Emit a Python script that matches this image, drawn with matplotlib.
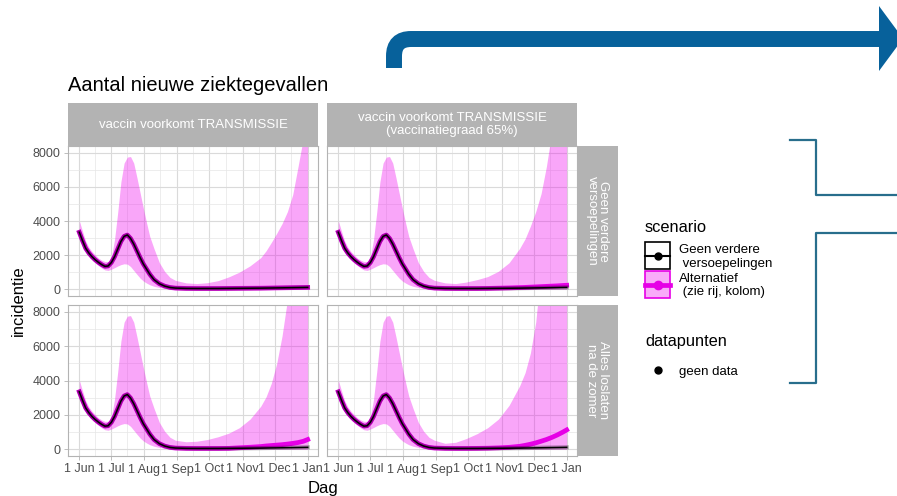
import numpy as np
import matplotlib
matplotlib.use("Agg")
import matplotlib.pyplot as plt
from matplotlib.path import Path
from matplotlib.patches import PathPatch, Polygon, Rectangle

plt.rcParams['font.family'] = ['Liberation Sans', 'DejaVu Sans']

# ---- data ----
start = np.datetime64('2021-06-01')
days = [0, 3, 6, 9, 12, 15, 18, 21, 24, 27, 30, 33, 36, 39, 42, 45, 48, 51, 54, 57, 60,
        63, 66, 70, 75, 80, 85, 90, 100, 110, 120, 130, 140, 150, 160, 170, 175, 180,
        185, 190, 195, 200, 205, 210, 214]

# scenario "Geen verdere versoepelingen" (black line)
baseline = [3340, 2850, 2400, 2120, 1900, 1720, 1570, 1440, 1340, 1360, 1560, 1900, 2350,
            2800, 3100, 3180, 2980, 2650, 2250, 1850, 1480, 1180, 880, 560, 320, 180, 100,
            65, 45, 40, 40, 40, 45, 50, 55, 60, 65, 70, 75, 80, 85, 90, 95, 100, 105]

# lower edge of the alternative ribbon (same in every panel)
band_low = [3200, 2700, 2280, 1950, 1720, 1530, 1380, 1240, 1130, 1100, 1170, 1260, 1360,
            1440, 1490, 1470, 1330, 1100, 870, 650, 480, 360, 260, 170, 100, 50, 20, 10,
            0, 0, 0, 0, 0, 0, 0, 0, 0, 0, 0, 0, 0, 0, 0, 0, 0]

# upper edge of the ribbon up to 1 Sep (day 90), then per panel
band_high_head = [4020, 3400, 2820, 2450, 2200, 2000, 1820, 1700, 1620, 1620, 1850, 2900,
                  4500, 6300, 7400, 7750, 7780, 7400, 6550, 5650, 4750, 3900, 3100, 2380,
                  1560, 1040, 690, 520]
band_high_tl = [370, 330, 380, 500, 720, 1000, 1370, 1850, 2250, 2750, 3280, 3850, 4550,
                5550, 7200, 8900, 10500]
band_high_tr = [370, 330, 420, 560, 740, 1050, 1550, 2400, 2950, 3700, 4550, 5600, 7200,
                9200, 11500, 13500, 15000]
band_high_bl = [430, 460, 560, 720, 930, 1250, 1750, 2500, 3050, 3850, 5000, 6600, 8700,
                11000, 13000, 15000, 16500]
band_high_br = [340, 400, 620, 900, 1250, 1750, 2550, 3700, 4450, 5600, 7400, 10500, 13000,
                15500, 17500, 19000, 20000]

# alternative scenario median (magenta), from day 100 on; before that equal to baseline
alt_tl = [45, 40, 40, 40, 45, 50, 55, 60, 65, 70, 75, 80, 85, 90, 95, 100, 105]
alt_tr = [45, 40, 40, 40, 45, 60, 75, 95, 105, 120, 135, 150, 165, 180, 195, 215, 230]
alt_bl = [45, 40, 40, 40, 45, 80, 110, 150, 185, 210, 235, 260, 295, 335, 385, 460, 560]
alt_br = [45, 40, 40, 45, 55, 75, 105, 165, 220, 285, 365, 460, 560, 680, 820, 980, 1120]

col_labels = ['vaccin voorkomt TRANSMISSIE',
              'vaccin voorkomt TRANSMISSIE\n(vaccinatiegraad 65%)']
row_labels = ['Geen verdere\nversoepelingen', 'Alles loslaten\nna de zomer']
month_labels = ['1 Jun', '1 Jul', '1 Aug', '1 Sep', '1 Oct', '1 Nov', '1 Dec', '1 Jan']
y_ticks = [0, 2000, 4000, 6000, 8000]

# ---- figure ----
W, H = 897, 496
fig = plt.figure(figsize=(W / 100, H / 100), dpi=100)


def frac(l, t, r, b):
    return [l / W, 1 - b / H, (r - l) / W, (b - t) / H]


dates = start + np.array(days).astype('timedelta64[D]')
month_ticks = np.arange(np.datetime64('2021-06'), np.datetime64('2022-02')).astype('datetime64[D]')
minor_x = month_ticks[:-1] + (month_ticks[1:] - month_ticks[:-1]) / 2

pink = '#EE00EE'
grey70 = '#B3B3B3'

cols = [(68, 318), (327, 577)]
rows = [(146, 296), (305, 456)]
panels = [(0, 0, band_high_tl, alt_tl), (0, 1, band_high_tr, alt_tr),
          (1, 0, band_high_bl, alt_bl), (1, 1, band_high_br, alt_br)]

for r, c, hi_tail, alt_tail in panels:
    l, rr = cols[c]
    t, b = rows[r]
    ax = fig.add_axes(frac(l, t, rr, b))
    upper = band_high_head + hi_tail
    alt = baseline[:28] + alt_tail
    ax.fill_between(dates, band_low, upper, color=pink, alpha=0.35, lw=0, zorder=2)
    ax.plot(dates, alt, color='#E600E6', lw=3.4, zorder=3)
    ax.plot(dates, baseline, color='black', alpha=0.3, lw=3.0, zorder=4)
    ax.plot(dates, baseline, color='black', lw=1.1, zorder=5)

    ax.set_xlim(start - np.timedelta64(254, 'h'), start + np.timedelta64(214 * 24 + 232, 'h'))
    ax.set_ylim(-400, 8400)
    ax.set_xticks(month_ticks)
    ax.set_xticks(minor_x, minor=True)
    ax.set_yticks(y_ticks)
    ax.set_yticks([1000, 3000, 5000, 7000], minor=True)
    ax.set_xticklabels(month_labels)
    ax.set_yticklabels([str(v) for v in y_ticks])
    ax.grid(which='major', color='#DADADA', lw=0.8)
    ax.grid(which='minor', color='#E6E6E6', lw=0.5)
    ax.set_axisbelow(True)
    for s in ax.spines.values():
        s.set_color(grey70)
        s.set_linewidth(0.8)
    ax.tick_params(which='major', length=2.9, width=0.6, color=grey70,
                   labelsize=9, labelcolor='#4D4D4D', pad=2.5)
    ax.tick_params(which='minor', length=0)
    if c != 0:
        ax.tick_params(axis='y', length=0, labelleft=False)
    if r != 1:
        ax.tick_params(axis='x', length=0, labelbottom=False)

    # strips
    if r == 0:
        st = fig.add_axes(frac(l, 103, rr, 146))
        st.set_facecolor(grey70)
        st.set_xticks([])
        st.set_yticks([])
        for s in st.spines.values():
            s.set_visible(False)
        st.text(0.5, 0.5, col_labels[c], transform=st.transAxes, ha='center', va='center',
                color='white', fontsize=9.5, linespacing=1.1)
    if c == 1:
        st = fig.add_axes(frac(577, t, 618, b))
        st.set_facecolor(grey70)
        st.set_xticks([])
        st.set_yticks([])
        for s in st.spines.values():
            s.set_visible(False)
        st.text(0.5, 0.5, row_labels[r], transform=st.transAxes, ha='center', va='center',
                color='white', fontsize=9.5, rotation=-90, linespacing=1.0)

# ---- overlay: titles, legend, blue decorations ----
ov = fig.add_axes([0, 0, 1, 1])
ov.set_xlim(0, W)
ov.set_ylim(H, 0)
ov.axis('off')
ov.patch.set_alpha(0)

ov.text(68, 91, 'Aantal nieuwe ziektegevallen', fontsize=14.5, va='baseline')
ov.text(18, 301, 'incidentie', fontsize=12, rotation=90, ha='center', va='center')
ov.text(323, 488, 'Dag', fontsize=12, ha='center', va='center')

# legend
ov.text(645, 232, 'scenario', fontsize=11.8, va='baseline')
ov.add_patch(Rectangle((645, 242), 25, 27, facecolor='white', edgecolor='black', lw=1.2))
ov.plot([645, 670], [255.5, 255.5], color='black', lw=1.5)
ov.plot([657.5], [255.5], 'o', color='black', ms=5)
ov.add_patch(Rectangle((645, 271), 25, 27, facecolor='#F9ABF9', edgecolor='#E600E6', lw=1.2))
ov.plot([645, 670], [284.5, 284.5], color='#E600E6', lw=3.4)
ov.plot([657.5], [284.5], 'o', color='#E600E6', ms=6)
ov.text(679, 253, 'Geen verdere', fontsize=9.5, va='baseline')
ov.text(679, 266.5, ' versoepelingen', fontsize=9.5, va='baseline')
ov.text(679, 281.5, 'Alternatief', fontsize=9.5, va='baseline')
ov.text(679, 295, ' (zie rij, kolom)', fontsize=9.5, va='baseline')
ov.text(645, 346, 'datapunten', fontsize=11.8, va='baseline')
ov.plot([658], [370], 'o', color='black', ms=5)
ov.text(679, 375, 'geen data', fontsize=9.5, va='baseline')

# blue arrow
blue = '#07619B'
arrow = Path([(394, 68), (394, 56), (394, 39), (411, 39), (882, 39)],
             [Path.MOVETO, Path.LINETO, Path.CURVE3, Path.CURVE3, Path.LINETO])
ov.add_patch(PathPatch(arrow, fill=False, lw=11.5, edgecolor=blue, capstyle='butt'))
ov.add_patch(Polygon([(879, 6), (879, 71), (903, 38.5)], closed=True, facecolor=blue, lw=0))

# brackets
teal = '#286E8C'
ov.plot([790, 816, 816, 897], [140, 140, 195, 195], color=teal, lw=1.6)
ov.plot([897, 816, 816, 790], [233, 233, 383, 383], color=teal, lw=1.6)

fig.savefig('out.png', dpi=100)
